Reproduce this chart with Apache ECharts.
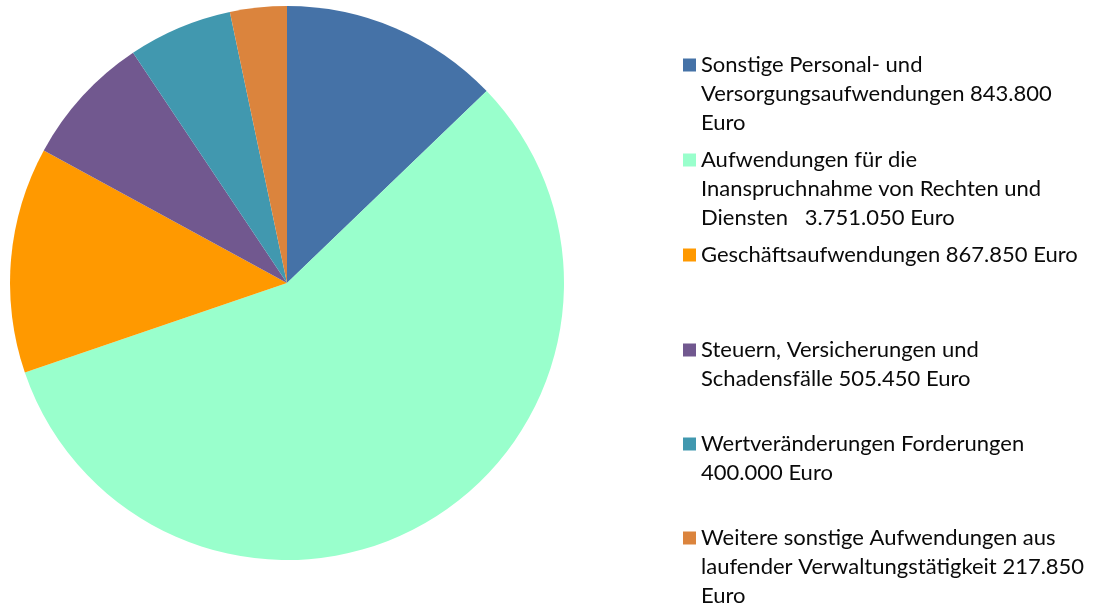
<!DOCTYPE html>
<html>
<head>
<meta charset="utf-8">
<script src="https://cdn.jsdelivr.net/npm/echarts@6/dist/echarts.min.js"></script>
<style>html,body{margin:0;padding:0;background:#fff;}#c{width:1093px;height:610px;}</style>
</head>
<body>
<div id="c"></div>
<script>
const categories = [
  "Sonstige Personal- und Versorgungsaufwendungen 843.800 Euro",
  "Aufwendungen für die Inanspruchnahme von Rechten und Diensten   3.751.050 Euro",
  "Geschäftsaufwendungen 867.850 Euro",
  "Steuern, Versicherungen und Schadensfälle 505.450 Euro",
  "Wertveränderungen Forderungen 400.000 Euro",
  "Weitere sonstige Aufwendungen aus laufender Verwaltungstätigkeit 217.850 Euro"
];
const values = [843800, 3751050, 867850, 505450, 400000, 217850];
const legendLines = [
  ["Sonstige Personal- und", "Versorgungsaufwendungen 843.800", "Euro"],
  ["Aufwendungen für die", "Inanspruchnahme von Rechten und", "Diensten   3.751.050 Euro"],
  ["Geschäftsaufwendungen 867.850 Euro"],
  ["Steuern, Versicherungen und", "Schadensfälle 505.450 Euro"],
  ["Wertveränderungen Forderungen", "400.000 Euro"],
  ["Weitere sonstige Aufwendungen aus", "laufender Verwaltungstätigkeit 217.850", "Euro"]
];
const colors = ["#4572A7", "#99FFCC", "#FF9900", "#71588F", "#4198AF", "#DB843D"];

const itemTops = [65, 160, 255, 350, 444, 538];
const lineStep = 28.8;
const fontFamily = "Lato, 'Open Sans', sans-serif";
const fontSize = 22;
const textColor = "#0a0a0a";

const legends = categories.map((name, i) => ({
  data: [name],
  left: 683,
  top: itemTops[i] - 14.5,
  padding: 0,
  itemWidth: 13,
  itemHeight: 13,
  icon: 'rect',
  selectedMode: false,
  formatter: () => legendLines[i][0],
  textStyle: { fontFamily, fontSize, color: textColor, lineHeight: 29 }
}));

const graphics = [];
legendLines.forEach((lines, i) => {
  lines.slice(1).forEach((t, j) => {
    graphics.push({
      type: 'text',
      x: 701,
      y: itemTops[i] + lineStep * (j + 1),
      silent: true,
      style: { text: t, fontFamily, fontSize, fill: textColor, verticalAlign: 'middle', align: 'left' }
    });
  });
});

const chart = echarts.init(document.getElementById('c'));
chart.setOption({
  animation: false,
  color: colors,
  legend: legends,
  graphic: graphics,
  series: [{
    type: 'pie',
    center: [287, 283],
    radius: 277,
    startAngle: 90,
    clockwise: true,
    label: { show: false },
    labelLine: { show: false },
    itemStyle: { borderWidth: 0 },
    emphasis: { disabled: true },
    data: categories.map((n, i) => ({ name: n, value: values[i] }))
  }]
});
</script>
</body>
</html>
